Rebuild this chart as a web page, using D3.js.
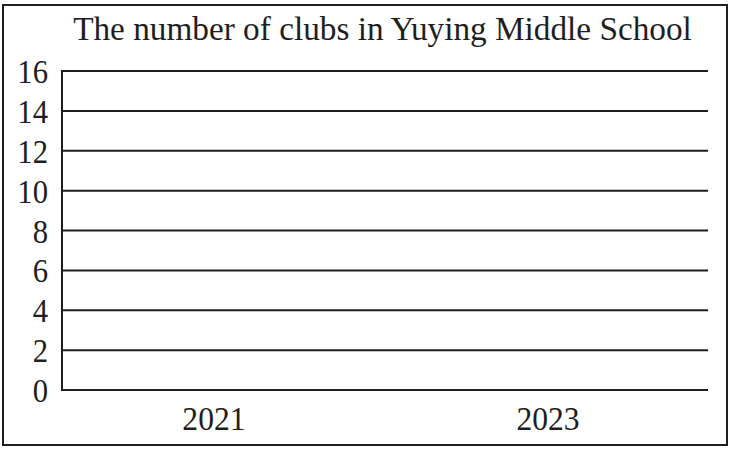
<!DOCTYPE html>
<html><head><meta charset="utf-8">
<script src="https://cdn.jsdelivr.net/npm/d3@7"></script>
<style>html,body{margin:0;padding:0;background:#fff;}svg{display:block;}</style>
</head><body>
<script>
const title = "The number of clubs in Yuying Middle School";
const categories = ["2021", "2023"];
const clubCounts = []; // blank chart: no bars drawn in the reference
const yTicks = [0, 2, 4, 6, 8, 10, 12, 14, 16];

const W = 736, H = 452;
const svg = d3.select("body").append("svg").attr("width", W).attr("height", H);
const font = "'Liberation Serif','DejaVu Serif',serif";
const ink = "#1e1e1e";

svg.append("rect").attr("x", 3).attr("y", 5).attr("width", 724).attr("height", 440)
  .attr("fill", "none").attr("stroke", ink).attr("stroke-width", 2);

const y = d3.scaleLinear().domain([0, 16]).range([390, 71]);
const x = d3.scalePoint().domain(categories).range([58, 704]).padding(0.467);

// grid lines
svg.append("g").selectAll("line").data(yTicks).join("line")
  .attr("x1", 62).attr("x2", 708)
  .attr("y1", d => y(d)).attr("y2", d => y(d))
  .attr("stroke", ink).attr("stroke-width", 2);

// y axis line
svg.append("line").attr("x1", 62).attr("x2", 62).attr("y1", y(16) - 1).attr("y2", y(0) + 1)
  .attr("stroke", ink).attr("stroke-width", 2);

// y tick labels
svg.append("g").selectAll("text").data(yTicks).join("text")
  .attr("transform", d => `translate(48,${y(d) + 12}) scale(0.93,1)`)
  .attr("text-anchor", "end").attr("font-family", font).attr("font-size", 33)
  .attr("fill", ink).text(d => d);

// x labels
svg.append("g").selectAll("text").data(categories).join("text")
  .attr("transform", d => `translate(${x(d)},430) scale(0.93,1)`)
  .attr("text-anchor", "middle").attr("font-family", font).attr("font-size", 34)
  .attr("fill", ink).text(d => d);

// title
const t = svg.append("text").attr("text-anchor", "middle")
  .attr("font-family", font).attr("font-size", 34).attr("fill", ink).text(title);
const len = t.node().getComputedTextLength();
t.attr("transform", `translate(382.5,40) scale(${619 / len},1)`);
</script>
</body></html>
